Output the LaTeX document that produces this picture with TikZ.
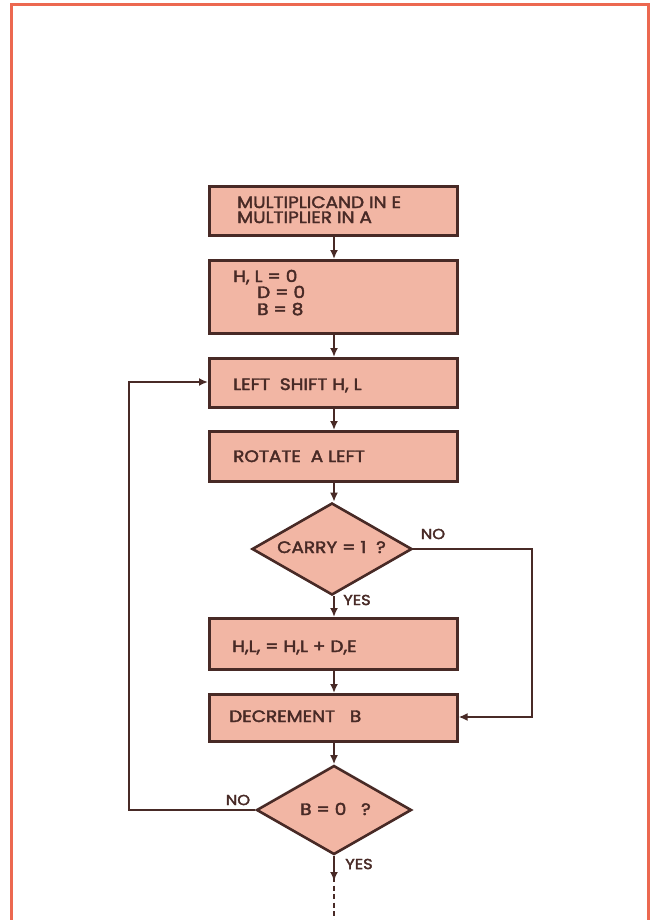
\documentclass[tikz,border=0pt]{standalone}
\usepackage{fontspec}
\setmainfont{Poppins}[FakeStretch=1.12,AutoFakeBold=2.4]
\usetikzlibrary{shapes.geometric,arrows.meta}
\definecolor{boxfill}{RGB}{242,182,164}
\definecolor{ink}{RGB}{72,42,38}
\definecolor{frame}{RGB}{236,104,80}
\tikzset{
  procbox/.style={draw=ink,fill=boxfill,line width=2.6pt,minimum width=248pt,inner sep=0pt,anchor=north west},
  decision/.style={draw=ink,fill=boxfill,line width=2.6pt,shape=diamond,inner sep=0pt},
  txt/.style={text=ink,anchor=base west,inner sep=0pt,font=\fontsize{16.5}{18}\selectfont\bfseries},
  lbl/.style={text=ink,inner sep=0pt,font=\fontsize{14.5}{16}\selectfont\bfseries},
  conn/.style={draw=ink,line width=2.6pt,-{Latex[length=9pt,width=8pt]}},
  plain/.style={draw=ink,line width=2.6pt},
}
\begin{document}
\begin{tikzpicture}[x=1pt,y=-1pt]
\useasboundingbox (0,0) rectangle (651,920);
% frame
\draw[frame,line width=3pt] (11.5,920) -- (11.5,5) -- (648.5,5) -- (648.5,920);
% boxes
\node[procbox,minimum height=49pt] (b1) at (208,185) {};
\node[procbox,minimum height=73pt] (b2) at (208,259) {};
\node[procbox,minimum height=49pt] (b3) at (208,357) {};
\node[procbox,minimum height=50pt] (b4) at (208,430) {};
\node[decision,minimum width=160pt,minimum height=92pt] (d1) at (332,549) {};
\node[procbox,minimum height=51pt] (b5) at (208,617) {};
\node[procbox,minimum height=47pt] (b6) at (208,693) {};
\node[decision,minimum width=155pt,minimum height=89pt] (d2) at (334,810) {};
% texts
\node[txt] (t1a) at (237,208) {MULTIPLICAND IN E};
\node[txt] (t1b) at (237,223) {MULTIPLIER IN A};
\node[txt] (t2a) at (233,282) {H, L = 0};
\node[txt] (t2b) at (257,298) {D = 0};
\node[txt] (t2c) at (257,315) {B = 8};
\node[txt] (t3) at (233,390) {LEFT\ \ SHIFT H, L};
\node[txt] (t4) at (233,462) {ROTATE\ \ A LEFT};
\node[txt] (td1) at (277,553) {CARRY = 1\ \ ?};
\node[txt] (t5) at (232,652) {H,L, = H,L + D,E};
\node[txt] (t6) at (229,722) {DECREMENT\ \ \ B};
\node[txt] (td2) at (300,815) {B = 0\ \ \ ?};
% labels
\node[lbl] (no1) at (433,534) {NO};
\node[lbl] (yes1) at (357,600) {YES};
\node[lbl] (no2) at (238,800) {NO};
\node[lbl] (yes2) at (359,864) {YES};
% connectors
\coordinate (c1) at (532,549);
\coordinate (c2) at (532,717);
\coordinate (c3) at (129,810);
\coordinate (c4) at (129,382);
\coordinate (e1) at (334,881);
\coordinate (e2) at (334,920);
\draw[conn] (b1.south -| 334,0) -- (b2.north -| 334,0);
\draw[conn] (b2.south -| 334,0) -- (b3.north -| 334,0);
\draw[conn] (b3.south -| 334,0) -- (b4.north -| 334,0);
\draw[conn] (b4.south -| 334,0) -- (d1.north -| 334,0);
\draw[conn] (d1.south -| 334,0) -- (b5.north -| 334,0);
\draw[conn] (b5.south -| 334,0) -- (b6.north -| 334,0);
\draw[conn] (b6.south -| 334,0) -- (d2.north);
\draw[conn] (d1.east) -- (c1) -- (c2) -- (c2 -| b6.east);
\draw[conn] (d2.west) -- (c3) -- (c4) -- (c4 -| b3.west);
\draw[conn] (d2.south) -- (e1);
\draw[plain,dash pattern=on 5pt off 3.5pt] ([yshift=4pt]e1) -- (e2);
\end{tikzpicture}
\end{document}
